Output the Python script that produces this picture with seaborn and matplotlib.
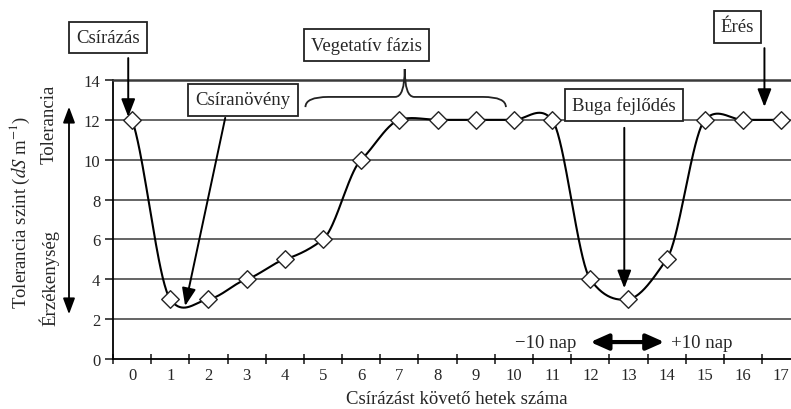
import numpy as np
import pandas as pd
import matplotlib
matplotlib.use("Agg")
import matplotlib.pyplot as plt
from matplotlib.path import Path
from matplotlib.patches import PathPatch
import seaborn as sns

# ---- data ----
weeks = list(range(18))
tolerance = [12, 3, 3, 4, 5, 6, 10, 12, 12, 12, 12, 12, 4, 3, 5, 12, 12, 12]
y_ticks = [0, 2, 4, 6, 8, 10, 12, 14]
x_label = "Csírázást követő hetek száma"
y_label = "Tolerancia szint ($\\mathit{dS}$ m$^{-1}$)"

sns.set_style("ticks")
plt.rcParams["font.family"] = ["Liberation Serif", "DejaVu Serif"]
plt.rcParams["mathtext.fontset"] = "stix"

# smoothed (Excel-like) curve through the data points
def smooth(x, y, k=0.6, n=40):
    x = np.asarray(x, float); y = np.asarray(y, float)
    m = np.gradient(y, x) * k
    xs, ys = [], []
    for i in range(len(x) - 1):
        t = np.linspace(0, 1, n, endpoint=False)
        h = x[i + 1] - x[i]
        h00 = 2 * t**3 - 3 * t**2 + 1
        h10 = t**3 - 2 * t**2 + t
        h01 = -2 * t**3 + 3 * t**2
        h11 = t**3 - t**2
        xs.append(x[i] + t * h)
        ys.append(h00 * y[i] + h10 * h * m[i] + h01 * y[i + 1] + h11 * h * m[i + 1])
    xs.append([x[-1]]); ys.append([y[-1]])
    return np.concatenate(xs), np.concatenate(ys)

df = pd.DataFrame({"week": weeks, "tol": tolerance})
sx, sy = smooth(weeks, tolerance)
curve = pd.DataFrame({"week": sx, "tol": sy})

fig = plt.figure(figsize=(7.91, 4.10), dpi=100)
ax = fig.add_axes([0.1428, 0.12195, 0.869, 0.6805])

for yv in y_ticks[1:-1]:
    ax.axhline(yv, color="#4a4a4a", lw=1.2, zorder=1)

sns.lineplot(data=curve, x="week", y="tol", ax=ax, color="black", lw=1.5,
             sort=False, zorder=3)
sns.scatterplot(data=df, x="week", y="tol", ax=ax, marker="D", s=80,
                facecolor="white", edgecolor="#222222", linewidth=1.0, zorder=4)

ax.set_xlim(-0.5, 17.5)
ax.set_ylim(0, 14)
ax.set_yticks(y_ticks)
ax.set_xticks(weeks)
ax.set_xticks(np.arange(-0.5, 18, 1.0), minor=True)
ax.tick_params(axis="x", which="major", length=0, labelsize=12, pad=6)
ax.tick_params(axis="x", which="minor", direction="inout", length=7, width=1.2)
ax.tick_params(axis="y", direction="out", length=6, width=1.2, labelsize=12, pad=3)
ax.set_xlabel(x_label, fontsize=13.5, labelpad=5)
ax.set_ylabel("")
for s in ["left", "bottom", "top"]:
    ax.spines[s].set_color("black")
    ax.spines[s].set_linewidth(1.3)
ax.spines["top"].set_color("#3a3a3a")
ax.spines["top"].set_linewidth(1.8)
ax.spines["right"].set_visible(False)

# y-axis labels and side arrow (figure coords)
fig.text(20 / 791, 1 - 212 / 410, y_label, rotation=90, ha="center", va="center", fontsize=13.5)
fig.text(49 / 791, 1 - 124 / 410, "Tolerancia", rotation=90, ha="center", va="center", fontsize=13.5)
fig.text(49 / 791, 1 - 278 / 410, "Érzékenység", rotation=90, ha="center", va="center", fontsize=13.5)
fig.add_artist(matplotlib.patches.FancyArrowPatch(
    (69 / 791, 1 - 318 / 410), (69 / 791, 1 - 105 / 410), transform=fig.transFigure,
    arrowstyle="<|-|>,head_length=0.8,head_width=0.3", mutation_scale=12,
    color="black", lw=1.3))

box = dict(boxstyle="square,pad=0.38", fc="white", ec="#222222", lw=1.3)
arrow = dict(arrowstyle="-|>,head_length=0.9,head_width=0.35", mutation_scale=12,
             color="black", lw=1.4, shrinkA=0, shrinkB=0)

def label(x, y, s):
    ax.text(x, y, s, ha="center", va="center", fontsize=13.5, bbox=box,
            clip_on=False, zorder=6)

def arr(x0, y0, x1, y1):
    ax.annotate("", xy=(x1, y1), xytext=(x0, y0), arrowprops=arrow,
                annotation_clip=False, zorder=5)

label(-0.63, 16.15, "Csírázás")
arr(-0.1, 15.1, -0.1, 12.15)
label(2.91, 13.0, "Csíranövény")
arr(2.44, 12.1, 1.39, 2.66)
label(6.14, 15.75, "Vegetatív fázis")
label(12.89, 12.74, "Buga fejlődés")
arr(12.89, 11.6, 12.89, 3.55)
label(15.85, 16.66, "Érés")
arr(16.56, 15.6, 16.56, 12.65)

# curly brace under "Vegetatív fázis"
x0, x1, xc = 4.54, 9.79, 7.14
yb, yh, yt = 12.64, 13.15, 14.55
verts = [(x0, yb), (x0, yh), (x0 + 0.6, yh),
         (xc - 0.25, yh),
         (xc, yh), (xc, yt),
         (xc, yh), (xc + 0.25, yh),
         (x1 - 0.6, yh),
         (x1, yh), (x1, yb)]
codes = [Path.MOVETO, Path.CURVE3, Path.CURVE3,
         Path.LINETO,
         Path.CURVE3, Path.CURVE3,
         Path.CURVE3, Path.CURVE3,
         Path.LINETO,
         Path.CURVE3, Path.CURVE3]
ax.add_patch(PathPatch(Path(verts, codes), fc="none", ec="#222222", lw=1.3,
                       clip_on=False, zorder=5))

# -10 / +10 nap
ax.text(10.84, 0.85, "−10 nap", ha="center", va="center", fontsize=13.5)
ax.text(14.93, 0.85, "+10 nap", ha="center", va="center", fontsize=13.5)
ax.annotate("", xy=(13.94, 0.85), xytext=(12.0, 0.85),
            arrowprops=dict(arrowstyle="<|-|>,head_length=0.9,head_width=0.4",
                            mutation_scale=12, color="black", lw=3,
                            shrinkA=0, shrinkB=0))

fig.savefig("out.png", dpi=100)
